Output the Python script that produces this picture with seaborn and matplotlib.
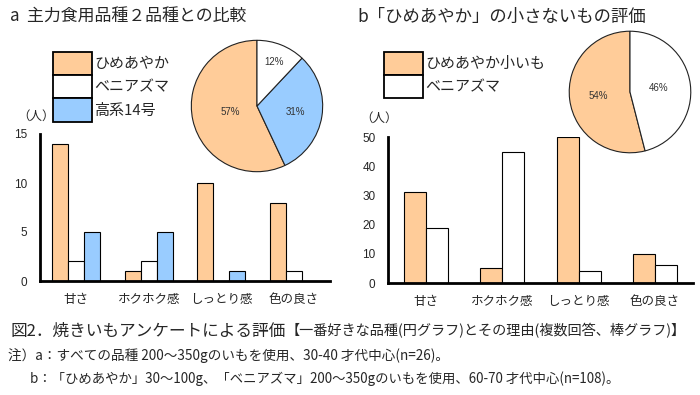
import matplotlib
matplotlib.use("Agg")
import matplotlib.pyplot as plt
from matplotlib.patches import Patch
import seaborn as sns
import pandas as pd

# data
reasons = ["甘さ", "ホクホク感", "しっとり感", "色の良さ"]

varieties_a = ["ひめあやか", "ベニアズマ", "高系14号"]
himeayaka_a = [14, 1, 10, 8]
beniazuma_a = [2, 2, 0, 1]
kouke14_a = [5, 5, 1, 0]
pie_share_a = [57, 12, 31]

varieties_b = ["ひめあやか小いも", "ベニアズマ"]
himeayaka_b = [31, 5, 50, 10]
beniazuma_b = [19, 45, 4, 6]
pie_share_b = [54, 46]

orange = "#FFCC99"
blue = "#99CCFF"
white = "#FFFFFF"
colors_a = [orange, white, blue]
colors_b = [orange, white]

sns.set_style("white")
plt.rcParams["font.family"] = ["Noto Sans CJK JP", "DejaVu Sans"]
num_font = ["Liberation Sans", "DejaVu Sans"]

df_a = pd.DataFrame({
    "reason": reasons * 3,
    "variety": [v for v in varieties_a for _ in reasons],
    "count": himeayaka_a + beniazuma_a + kouke14_a,
})
df_b = pd.DataFrame({
    "reason": reasons * 2,
    "variety": [v for v in varieties_b for _ in reasons],
    "count": himeayaka_b + beniazuma_b,
})

fig = plt.figure(figsize=(7, 3.95), dpi=100)

def style_bar_ax(ax, ymax, step):
    ax.set_xlim(-0.5, 3.5)
    ax.set_ylim(0, ymax)
    ax.set_yticks(range(0, ymax + 1, step))
    ax.set_xlabel("")
    ax.set_ylabel("")
    for s in ["top", "right"]:
        ax.spines[s].set_visible(False)
    for s in ["left", "bottom"]:
        ax.spines[s].set_linewidth(2)
        ax.spines[s].set_color("black")
    ax.tick_params(axis="y", direction="in", length=3, width=1.5, pad=9, labelsize=8.5)
    ax.tick_params(axis="x", length=0, pad=9, labelsize=9)
    for t in ax.get_yticklabels():
        t.set_family(num_font)

# bar chart a
ax1 = fig.add_axes([40 / 700, 1 - 281 / 395, 290 / 700, 147 / 395])
sns.barplot(data=df_a, x="reason", y="count", hue="variety", order=reasons,
            hue_order=varieties_a, palette=colors_a, saturation=1, width=0.66,
            edgecolor="black", linewidth=0.8, legend=False, ax=ax1)
style_bar_ax(ax1, 15, 5)

# bar chart b
ax2 = fig.add_axes([388 / 700, 1 - 283 / 395, 305 / 700, 146 / 395])
sns.barplot(data=df_b, x="reason", y="count", hue="variety", order=reasons,
            hue_order=varieties_b, palette=colors_b, saturation=1, width=0.58,
            edgecolor="black", linewidth=0.8, legend=False, ax=ax2)
style_bar_ax(ax2, 50, 10)

# pies (drawn counter-clockwise from 12 o'clock, like the original)
def draw_pie(rect, shares, cols, dists):
    ax = fig.add_axes(rect)
    wedges, _, autotexts = ax.pie(shares, colors=cols, startangle=90, counterclock=True,
                                  autopct="%.0f%%", pctdistance=1.0,
                                  wedgeprops=dict(edgecolor="#222222", linewidth=0.8),
                                  textprops=dict(fontsize=7, color="#333333", family=num_font))
    for t, d in zip(autotexts, dists):
        x, y = t.get_position()
        t.set_position((x * d, y * d))
    ax.set_xlim(-1.02, 1.02)
    ax.set_ylim(-1.02, 1.02)
    return ax

order_a = [0, 2, 1]
draw_pie([190 / 700, 1 - 173 / 395, 134 / 700, 134 / 395],
         [pie_share_a[i] for i in order_a], [colors_a[i] for i in order_a], [0.42, 0.6, 0.72])
draw_pie([568 / 700, 1 - 154 / 395, 124 / 700, 124 / 395],
         pie_share_b, colors_b, [0.52, 0.48])

# legends
def box_legend(labels, cols, x, y):
    handles = [Patch(facecolor=c, edgecolor="black", linewidth=1.3) for c in cols]
    fig.legend(handles, labels, loc="upper left", bbox_to_anchor=(x / 700, 1 - y / 395),
               frameon=False, fontsize=10.8, handlelength=2.6, handleheight=2.0,
               labelspacing=0, handletextpad=0.15, borderpad=0, borderaxespad=0)

box_legend(varieties_a, colors_a, 53, 52)
box_legend(varieties_b, colors_b, 384, 52)

# titles and unit labels
fig.text(10 / 700, 1 - 17 / 395, "a  主力食用品種２品種との比較", fontsize=12.2, va="center")
fig.text(357 / 700, 1 - 17 / 395, "b「ひめあやか」の小さないもの評価", fontsize=12.5, va="center")
fig.text(17 / 700, 1 - 116 / 395, "（人）", fontsize=9, va="center")
fig.text(360 / 700, 1 - 118 / 395, "（人）", fontsize=9, va="center")

# caption
t1 = fig.text(10 / 700, 1 - 331 / 395, "図2．焼きいもアンケートによる評価", fontsize=12, va="center")
ax1.annotate("【一番好きな品種(円グラフ)とその理由(複数回答、棒グラフ)】", xy=(1, 0.5),
             xycoords=t1, va="center", ha="left", fontsize=10.2, annotation_clip=False)
fig.text(8 / 700, 1 - 356 / 395, "注）a：すべての品種 200～350gのいもを使用、30-40 才代中心(n=26)。",
         fontsize=9.8, va="center")
fig.text(30 / 700, 1 - 379 / 395, "b：「ひめあやか」30～100g、「ベニアズマ」200～350gのいもを使用、60-70 才代中心(n=108)。",
         fontsize=9.6, va="center")

fig.savefig("out.png", dpi=100)
